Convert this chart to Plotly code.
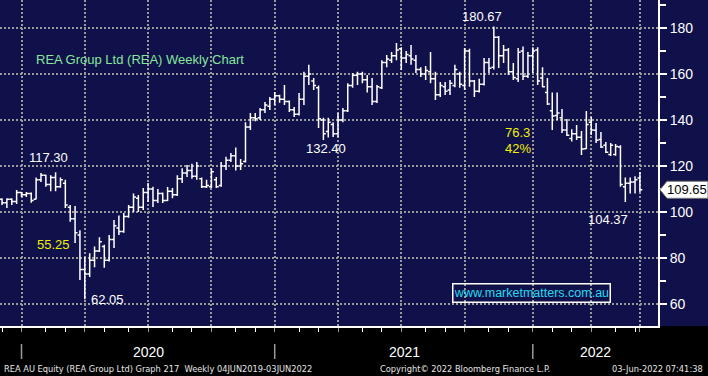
import pandas as pd
import plotly.graph_objects as go

# ---------------- data (weekly bars, REA AU) ----------------
start_date = "2019-11-29"
open_ = [105.5, 104, 105.5, 104.5, 108.5, 107.5, 108, 105.5, 114, 116,
         112, 115, 111, 112.5, 102, 97, 90, 75, 73, 79,
         83, 85, 79, 88, 93, 91.5, 98, 102, 106, 102,
         108.5, 110, 105, 108, 105, 109, 107.5, 114.5, 117, 118,
         115.5, 114.5, 111, 111, 114, 111.5, 120, 122.5, 124.5, 120,
         122, 137, 141, 141, 144.5, 146, 149, 150.5, 149, 148,
         144.5, 142.5, 149, 159, 157, 154, 140, 135, 138, 134,
         140, 144, 155, 159.5, 160, 157.5, 154.5, 148, 154, 165,
         166, 168, 171, 167, 168, 166, 162, 160, 161, 158,
         151, 154.5, 153, 155, 160, 155, 170, 157, 152.5, 155.5,
         165, 163, 176, 168, 170.5, 161, 158, 170, 159, 168,
         170.5, 158.3, 152, 144, 142, 141, 135.7, 132, 134, 132.5,
         127.5, 139, 135.5, 131.5, 129, 125, 125, 128.3, 111, 112.5,
         113, 114.8]
high = [106, 106, 106, 109.6, 108.7, 108.7, 108.5, 115, 117, 116.2,
        116, 117.3, 115, 114, 103, 102.6, 92, 80.4, 82, 85,
        89, 85.7, 90, 96.5, 98.5, 99.6, 103, 108, 107.4, 110.4,
        112.6, 111, 110, 108.5, 110.9, 110.4, 116, 119, 120.4, 121,
        121.7, 115, 114, 119, 115.2, 121.7, 124, 125.7, 128, 123,
        139, 143, 143, 145.2, 147.8, 150, 152.2, 151, 155.2, 148.5,
        145.7, 151.7, 161, 164, 158.3, 155, 141, 141, 139, 143,
        145.2, 156, 160.4, 161, 161, 159.6, 158.3, 155.2, 166, 168.3,
        169.6, 173.5, 171.7, 170, 172.6, 168.3, 163, 163.5, 169.6, 161,
        156.5, 156.5, 157.4, 164, 161, 171.3, 171, 157.4, 158, 167,
        167, 180.67, 176.5, 172.6, 171.3, 164.8, 171.3, 172, 169.6, 171.7,
        171.7, 163, 158.3, 152, 152, 144.8, 140.4, 136, 137.8, 135.2,
        143.9, 141.3, 138.7, 134.8, 130.4, 130, 129.6, 129, 115, 115,
        115.5, 117.4]
low = [103, 101.7, 103, 103.5, 106.5, 106.5, 104, 105.5, 113, 111,
       109, 109, 110.5, 101.7, 95.7, 86.5, 70.4, 62.05, 71.7, 76,
       82.6, 75.7, 78.5, 84.3, 90, 91, 97.5, 100, 100, 100.9,
       104.3, 102.2, 103.9, 103.9, 104.8, 106, 107, 112.6, 115.2, 114.5,
       114, 110.4, 110.4, 110.4, 110.4, 111, 118.3, 121.7, 118, 118.3,
       121.5, 135.7, 139.5, 140, 143, 144.3, 146.5, 147.5, 146.5, 143.5,
       141.3, 142, 146.5, 155.2, 153, 136.5, 131.3, 132.4, 132.6, 132.6,
       139, 143.5, 154, 155.2, 156, 152, 146.5, 147.4, 153.5, 163,
       164.8, 166, 161.7, 164.8, 164, 160.4, 158.7, 157.4, 156, 148.7,
       150, 150.9, 150.9, 154.3, 154, 153, 154.5, 150, 152, 155,
       160.4, 162, 162.6, 164.8, 159.6, 157.4, 156.5, 157.4, 158.3, 160.4,
       155.2, 154.3, 146.5, 135.7, 140, 134.3, 133, 130.6, 131.3, 124.8,
       127.4, 133.5, 130, 127.8, 125.7, 124.3, 124.5, 111, 104.37, 108,
       108, 108.7]
close = [104, 105.5, 104.5, 108.5, 107.5, 108, 105, 114, 116, 112,
         115, 111, 114, 103, 97, 91, 75, 73, 79, 83,
         87, 79, 88, 94, 91.5, 98, 102, 106.5, 102, 108.5,
         110, 105, 108, 105, 109, 107.5, 114.5, 117, 118, 115.5,
         120, 111, 111.5, 117.5, 111, 120, 122.5, 124.5, 120, 121,
         137, 141, 140.5, 144.5, 146.5, 149, 150.5, 149, 148, 144.5,
         142.5, 149, 159, 160, 155, 140.5, 134, 139, 134, 140,
         144, 155, 159.5, 160, 157.5, 154.5, 148, 154.5, 165, 166.5,
         168, 170.5, 167, 168.5, 166.5, 162, 160, 161.5, 158, 151,
         155, 152.5, 156, 162, 155.5, 170, 157, 152.5, 155.5, 165,
         162.5, 176, 168, 170.5, 161, 158.5, 169.5, 159, 168, 170,
         157, 154.5, 147, 141.7, 143, 135.7, 133.4, 134, 132.5, 127.4,
         138, 135.7, 131.2, 128.3, 126, 129, 128.5, 112, 112.5, 113,
         114, 109.65]

y_ticks = [60, 80, 100, 120, 140, 160, 180]
y_minor = [70, 90, 110, 130, 150, 170, 190]
year_labels = ["2020", "2021", "2022"]

dates = pd.date_range(start_date, periods=len(close), freq="7D")

# last weekly bar of each month / quarter / year (Bloomberg grid convention)
s = pd.Series(dates, index=dates)
month_ends = s.groupby([s.index.year, s.index.month]).max().tolist()
quarter_ends = [d for d in month_ends if d.month in (3, 6, 9, 12)]
year_ends = [d for d in month_ends if d.month == 12]

NAVY = "#10104a"
GRID = "#9a9a9a"
FONT = "Liberation Sans, Arial, sans-serif"
PW, PH = 658, 326


def px(x):
    return x / PW


def py(y):
    return 1 - y / PH


fig = go.Figure()
fig.add_trace(go.Ohlc(
    x=dates, open=open_, high=high, low=low, close=close,
    increasing=dict(line=dict(color="white", width=1.5)),
    decreasing=dict(line=dict(color="white", width=1.5)),
    tickwidth=0.5, hoverinfo="skip", showlegend=False,
))

fig.update_layout(
    width=708, height=376,
    margin=dict(l=0, r=50, t=0, b=50, autoexpand=False),
    paper_bgcolor="#000000", plot_bgcolor=NAVY,
    showlegend=False,
    font=dict(family=FONT, color="white", size=13),
    xaxis=dict(
        type="date",
        range=["2019-11-26 02:00", "2022-06-29"],
        tickvals=quarter_ends, showticklabels=False,
        ticks="outside", ticklen=4, tickcolor=GRID, tickwidth=1,
        showgrid=True, gridcolor=GRID, griddash="2px,2px", gridwidth=2,
        showline=True, linecolor="white", linewidth=2,
        minor=dict(tickvals=month_ends, ticks="outside", ticklen=4,
                   tickcolor="white", tickwidth=1, showgrid=False),
        rangeslider=dict(visible=False), zeroline=False,
    ),
    yaxis=dict(
        side="right", range=[50.4, 192.2],
        tickvals=y_ticks, ticks="outside", ticklen=7, tickwidth=2,
        tickcolor="white", tickfont=dict(color="white", size=14, family=FONT),
        showline=True, linecolor="white", linewidth=2,
        showgrid=True, gridcolor=GRID, griddash="2px,2px", gridwidth=2,
        minor=dict(tickvals=y_minor, ticks="outside", ticklen=6,
                   tickcolor="white", tickwidth=1.5, showgrid=False),
        zeroline=False,
    ),
)

shapes = [
    # navy panel behind right price axis
    dict(type="rect", xref="paper", yref="paper", x0=1, x1=1.1, y0=0, y1=1,
         fillcolor=NAVY, line=dict(width=0), layer="below"),
]
# year separators in footer
for d in year_ends:
    shapes.append(dict(type="line", xref="x", yref="paper", x0=d, x1=d,
                       y0=py(344), y1=py(359), line=dict(color="#9a9a9a", width=1.5)))
# last price flag
last = close[-1]
shapes.append(dict(
    type="path", xref="paper", yref="y",
    path=f"M {px(660)},{last} L {px(667)},{last + 3.7} L {px(708)},{last + 3.7} "
         f"L {px(708)},{last - 3.7} L {px(667)},{last - 3.7} Z",
    fillcolor="white", line=dict(color="#777777", width=1), layer="above"))
fig.update_layout(shapes=shapes)

ann = []


def label(text, x, y, color="white", size=13, xanchor="left", **kw):
    ann.append(dict(text=text, x=px(x), y=py(y), xref="paper", yref="paper",
                    xanchor=xanchor, yanchor="middle", showarrow=False,
                    font=dict(color=color, size=size, family=FONT), **kw))


label("REA Group Ltd (REA) Weekly Chart", 34, 59, color="#86e69a", size=13)
label("117.30", 27, 157)
label("55.25", 35, 244, color="#f0f000")
label("62.05", 89, 299)
label("132.40", 304, 148)
label("180.67", 460, 16)
label("76.3", 503, 132, color="#f0f000")
label("42%", 503, 148, color="#f0f000")
label("104.37", 586, 219)
label("www.marketmatters.com.au", 531, 293, color="#22dcef", size=12.5,
      xanchor="center", bordercolor="white", borderwidth=1.5, borderpad=1,
      width=154, height=15)
ann.append(dict(text=f"{last:.2f}", x=px(687.5), y=last, xref="paper", yref="y",
                xanchor="center", yanchor="middle", showarrow=False,
                font=dict(color="black", size=13, family=FONT)))

# footer
year_x = [148, 404, 595]
for t, xx in zip(year_labels, year_x):
    label(t, xx, 352, xanchor="center", size=14)
FOOT = "DejaVu Sans Condensed, Liberation Sans, Arial, sans-serif"
FS = 9.2
ann.append(dict(text="REA AU Equity (REA Group Ltd) Graph 217  Weekly 04JUN2019-03JUN2022",
                x=px(2), y=py(368), xref="paper", yref="paper", xanchor="left",
                yanchor="middle", showarrow=False,
                font=dict(color="#e6e6e6", size=FS, family=FOOT)))
ann.append(dict(text="Copyright\u00a9 2022 Bloomberg Finance L.P.",
                x=px(378), y=py(368), xref="paper", yref="paper", xanchor="left",
                yanchor="middle", showarrow=False,
                font=dict(color="#e6e6e6", size=FS, family=FOOT)))
ann.append(dict(text="03-Jun-2022 07:41:38",
                x=px(705), y=py(368), xref="paper", yref="paper", xanchor="right",
                yanchor="middle", showarrow=False,
                font=dict(color="#e6e6e6", size=FS, family=FOOT)))
fig.update_layout(annotations=ann)

fig.write_html(
    "out.html",
    config={"displayModeBar": False, "staticPlot": True},
    post_script="document.body.style.margin='0';document.body.style.overflow='hidden';",
)
